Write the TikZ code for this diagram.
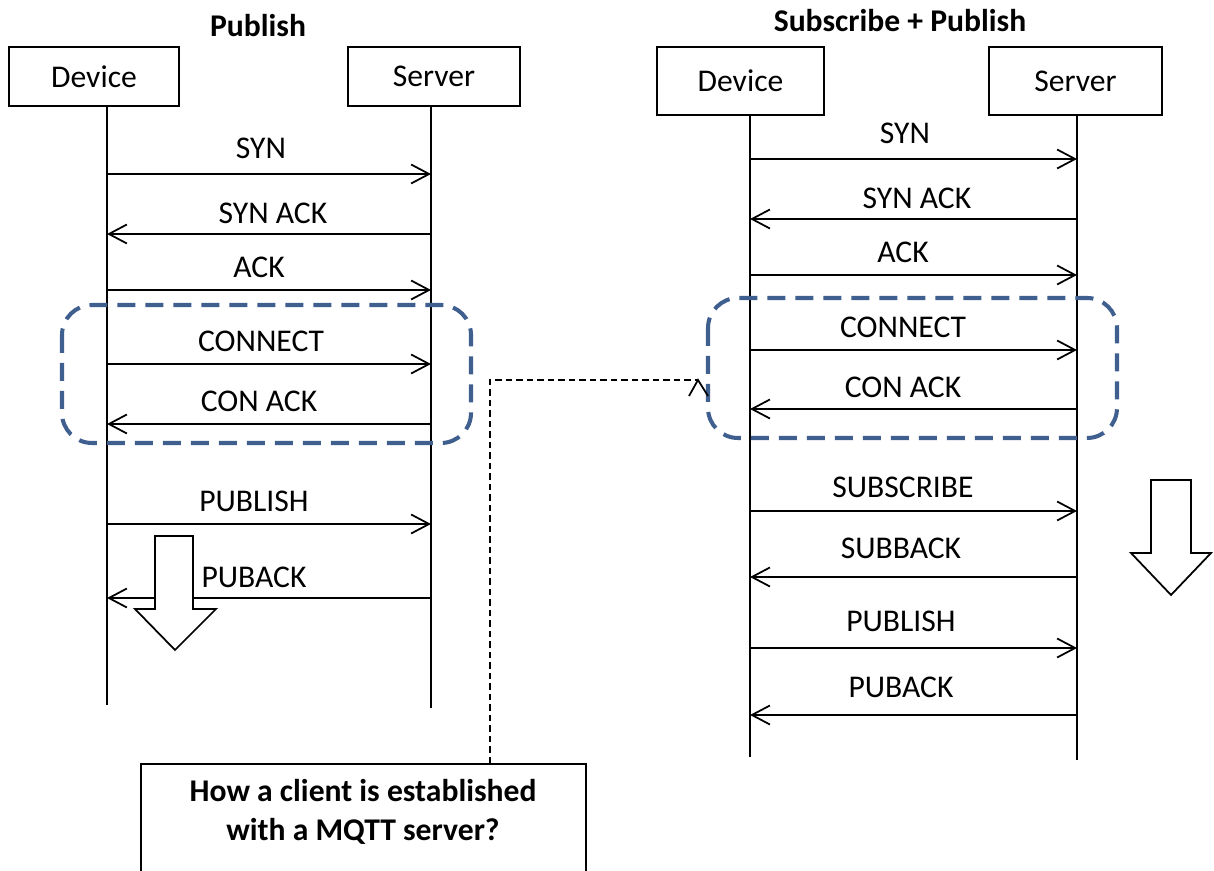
\documentclass[tikz,border=0pt]{standalone}
\usepackage{fontspec}
\setmainfont{Carlito}
\usetikzlibrary{arrows.meta}
\definecolor{sessionblue}{RGB}{63,95,143}
\tikzset{
%Define standard arrow tip
>={Straight Barb[length=3.6mm,width=3.8mm]},
%Define styles for boxes, lines and texts
entity/.style={draw, line width=1pt, fill=white, font=\fontsize{18}{21}\selectfont},
lifeline/.style={line width=1.1pt},
message/.style={line width=1pt},
msglabel/.style={font=\fontsize{18}{21}\selectfont},
title/.style={font=\fontsize{18}{22}\selectfont\bfseries},
session/.style={draw=sessionblue, line width=2.3pt, dash pattern=on 3.6mm off 2mm, rounded corners=6mm},
flow/.style={draw, line width=1pt, fill=white},
note link/.style={line width=1.1pt, dash pattern=on 1.3mm off 0.8mm},
qbox/.style={draw, line width=1pt, fill=white, minimum width=8.9cm, minimum height=2.6cm},
}

\begin{document}
\begin{tikzpicture}[x=0.02cm, y=-0.02cm]
    \useasboundingbox (0,0) rectangle (1214,871);

    % Publish
    \node[title] (titleL) at (258,26) {Publish};
    \node[entity, minimum width=3.4cm, minimum height=1.18cm] (devL) at (94,76.5) {Device};
    \node[entity, minimum width=3.44cm, minimum height=1.18cm] (srvL) at (434,76.5) {Server};
    \coordinate (devLtop) at (107,106);
    \coordinate (devLend) at (107,705);
    \coordinate (srvLtop) at (431,106);
    \coordinate (srvLend) at (431,708);
    \draw[lifeline] (devLtop) -- (devLend);
    \draw[lifeline] (srvLtop) -- (srvLend);

    % session frame
    \draw[session] (62,305) rectangle (471,443);

    \foreach \y/\lx/\ly/\txt/\dir in {174/261/148/SYN/->, 234/273/213/SYN ACK/<-,
        290/259/267/ACK/->, 364/261/341/CONNECT/->, 424/259/401/CON ACK/<-,
        524/254/501/PUBLISH/->, 598/254/577/PUBACK/<-}{
      \draw[message, \dir] (devLtop |- 0,\y) -- (srvLtop |- 0,\y);
      \node[msglabel] at (\lx,\ly) {\txt};
    }

    % time flow
    \draw[flow] (155,536) -- (193,536) -- (193,609) -- (216,609) -- (175,650)
        -- (135,609) -- (155,609) -- cycle;

    % Subscribe + Publish
    \node[title] (titleR) at (900,21) {Subscribe + Publish};
    \node[entity, minimum width=3.34cm, minimum height=1.36cm] (devR) at (740.5,81) {Device};
    \node[entity, minimum width=3.46cm, minimum height=1.36cm] (srvR) at (1075.5,81) {Server};
    \coordinate (devRtop) at (750,115);
    \coordinate (devRend) at (750,757);
    \coordinate (srvRtop) at (1077,115);
    \coordinate (srvRend) at (1077,760);
    \draw[lifeline] (devRtop) -- (devRend);
    \draw[lifeline] (srvRtop) -- (srvRend);

    % session frame
    \draw[session] (708,298) rectangle (1117,438);

    \foreach \y/\lx/\ly/\txt/\dir in {159/905/133/SYN/->, 219/917/198/SYN ACK/<-,
        275/903/252/ACK/->, 350/903/327/CONNECT/->, 409/903/387/CON ACK/<-,
        511/903/487/SUBSCRIBE/->, 577/901/548/SUBBACK/<-,
        648/901/621/PUBLISH/->, 715/901/687/PUBACK/<-}{
      \draw[message, \dir] (devRtop |- 0,\y) -- (srvRtop |- 0,\y);
      \node[msglabel] at (\lx,\ly) {\txt};
    }

    % time flow
    \draw[flow] (1151,480) -- (1191,480) -- (1191,553) -- (1211,553) -- (1171,595)
        -- (1131,553) -- (1151,553) -- cycle;

    % question box and its link
    \node[qbox, anchor=north] (question) at (363.5,763) {};
    \node[title, align=center] (qtext) at (363,812) {How a client is established\\with a MQTT server?};
    \coordinate (note) at (490,763);
    \coordinate (dashtip) at (698,380);
    \draw[note link] (note) |- (dashtip);
    \draw[line width=1pt] (689,396) -- (dashtip) -- (708,396);

\end{tikzpicture}
\end{document}
